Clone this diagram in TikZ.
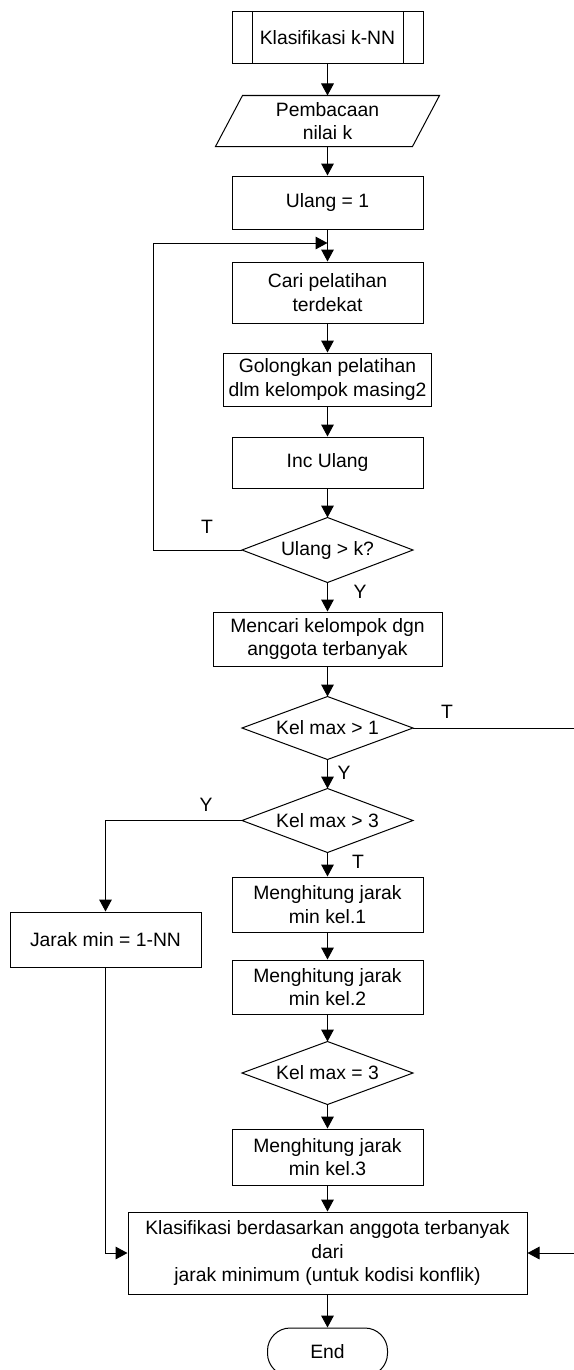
\documentclass[tikz,border=0pt]{standalone}
\usepackage{fontspec}
\setmainfont{Liberation Sans}
\usetikzlibrary{arrows.meta,calc}
\begin{document}
\begin{tikzpicture}[x=0.75pt,y=-0.75pt,
  font=\fontsize{14.5}{17.5}\selectfont,
  line width=0.75pt,
  box/.style={draw, rectangle, align=center, inner sep=0pt, minimum width=143.25pt},
  dec/.style={rectangle, align=center, inner sep=0pt, minimum width=127.5pt, minimum height=47pt},
  arr/.style={-{Triangle[length=9pt,width=9.5pt]}},
  lbl/.style={inner sep=0pt}]
\useasboundingbox (0,0) rectangle (574,1370);

% nodes
\node[box, minimum height=39pt] (start) at (327.5,38) {Klasifikasi k-NN};
\draw ($(start.north west)+(21,0)$) -- ($(start.south west)+(21,0)$);
\draw ($(start.north east)+(-20,0)$) -- ($(start.south east)+(-20,0)$);

\node[rectangle, align=center, inner sep=0pt, minimum width=147pt, minimum height=37.5pt] (read) at (327.5,121) {Pembacaan\\nilai k};
\draw ($(read.south west)+(-13.5,0)$) -- ($(read.north west)+(13.5,0)$) -- ($(read.north east)+(13.5,0)$) -- ($(read.south east)+(-13.5,0)$) -- cycle;

\node[box, minimum height=39.75pt] (init) at (327.5,202.5) {Ulang = 1};
\coordinate (join) at (327.5,243);
\node[box, minimum height=45.75pt] (cari) at (327.5,292.5) {Cari pelatihan\\terdekat};
\node[box, minimum width=156pt, minimum height=39.75pt] (gol) at (327.5,379.5) {Golongkan pelatihan\\dlm kelompok masing2};
\node[box, minimum height=38.25pt] (inc) at (327.5,462.5) {Inc Ulang};
\node[dec, minimum height=48pt] (d1) at (327.5,550) {Ulang > k?};
\draw (d1.north) -- (d1.east) -- (d1.south) -- (d1.west) -- cycle;

\node[box, minimum width=171.75pt, minimum height=40.5pt] (cariKel) at (327.5,639) {Mencari kelompok dgn\\anggota terbanyak};
\node[dec, minimum height=46.5pt] (d2) at (327.5,728) {Kel max > 1};
\draw (d2.north) -- (d2.east) -- (d2.south) -- (d2.west) -- cycle;
\node[dec, minimum height=47.25pt] (d3) at (327.5,820.5) {Kel max > 3};
\draw (d3.north) -- (d3.east) -- (d3.south) -- (d3.west) -- cycle;

\node[box, minimum height=41.25pt] (jarak) at (105.5,939.5) {Jarak min = 1-NN};
\node[box, minimum height=41.25pt] (m1) at (327.5,904.5) {Menghitung jarak\\min kel.1};
\node[box, minimum height=40.5pt] (m2) at (327.5,987) {Menghitung jarak\\min kel.2};
\node[dec, minimum height=46.5pt] (d4) at (327.5,1073) {Kel max = 3};
\draw (d4.north) -- (d4.east) -- (d4.south) -- (d4.west) -- cycle;
\node[box, minimum height=42pt] (m3) at (327.5,1157) {Menghitung jarak\\min kel.3};

\node[box, minimum width=299.25pt, minimum height=61.5pt] (final) at (327.5,1253) {Klasifikasi berdasarkan anggota terbanyak\\dari\\jarak minimum (untuk kodisi konflik)};
\node[draw, rectangle, rounded corners=17pt, minimum width=90pt, minimum height=36pt, inner sep=0pt] (end) at (327.5,1352) {End};

\coordinate (rc) at (577,1253);

% connectors
\draw[arr] (start) -- (read);
\draw[arr] (read) -- (init);
\draw[arr] (init) -- (cari);
\draw[arr] (cari) -- (gol);
\draw[arr] (gol) -- (inc);
\draw[arr] (inc) -- (d1.north);
\draw[arr] (d1.west) -- ++(-89,0) |- (join);
\draw[arr] (d1.south) -- (cariKel);
\draw[arr] (cariKel) -- (d2.north);
\draw[arr] (d2.south) -- (d3.north);
\draw (d2.east) -| (rc);
\draw[arr] (rc) -- (final.east);
\draw[arr] (d3.west) -| (jarak.north);
\draw[arr] (d3.south) -- (m1);
\draw[arr] (m1) -- (m2);
\draw[arr] (m2) -- (d4.north);
\draw[arr] (d4.south) -- (m3);
\draw[arr] (m3) -- (final);
\draw[arr] (jarak.south) |- (final.west);
\draw[arr] (final) -- (end);

% labels
\node[lbl] (lT1) at (207,527) {T};
\node[lbl] (lY1) at (360,592) {Y};
\node[lbl] (lT2) at (447,712) {T};
\node[lbl] (lY2) at (344,773) {Y};
\node[lbl] (lY3) at (206,805) {Y};
\node[lbl] (lT3) at (358,862) {T};
\end{tikzpicture}
\end{document}
